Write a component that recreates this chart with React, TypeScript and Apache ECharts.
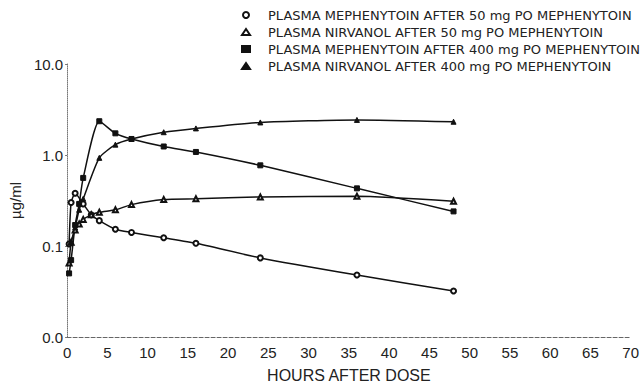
import React, { useEffect, useRef } from "react";
import * as echarts from "echarts";

const xTicks = [0, 5, 10, 15, 20, 25, 30, 35, 40, 45, 50, 55, 60, 65, 70];
const yTicks = [0.01, 0.1, 1, 10];

const seriesNames = [
  "PLASMA MEPHENYTOIN AFTER 50 mg PO MEPHENYTOIN",
  "PLASMA NIRVANOL AFTER 50 mg PO MEPHENYTOIN",
  "PLASMA MEPHENYTOIN AFTER 400 mg PO MEPHENYTOIN",
  "PLASMA NIRVANOL AFTER 400 mg PO MEPHENYTOIN",
];

const meph50Hours = [0.25, 0.5, 1, 2, 3, 4, 6, 8, 12, 16, 24, 36, 48];
const meph50Values = [0.105, 0.3, 0.38, 0.29, 0.22, 0.19, 0.153, 0.141, 0.123, 0.107, 0.074, 0.048, 0.032];

const nirv50Hours = [0.25, 0.5, 1, 1.5, 2, 3, 4, 6, 8, 12, 16, 24, 36, 48];
const nirv50Values = [0.065, 0.11, 0.15, 0.175, 0.196, 0.22, 0.235, 0.25, 0.285, 0.324, 0.33, 0.346, 0.352, 0.31];

const meph400Hours = [0.25, 0.5, 1, 1.5, 2, 4, 6, 8, 12, 16, 24, 36, 48];
const meph400Values = [0.05, 0.07, 0.17, 0.29, 0.56, 2.35, 1.73, 1.5, 1.24, 1.08, 0.77, 0.43, 0.24];

const nirv400Hours = [0.5, 1, 1.5, 2, 4, 6, 8, 12, 16, 24, 36, 48];
const nirv400Values = [0.11, 0.16, 0.25, 0.33, 0.93, 1.3, 1.5, 1.78, 1.96, 2.28, 2.43, 2.32];

const symbols = ["emptyCircle", "emptyTriangle", "rect", "triangle"];

const pair = (h: number[], v: number[]) => h.map((x, i) => [x, v[i]]);

export default function App() {
  const ref = useRef<HTMLDivElement>(null);
  useEffect(() => {
    if (!ref.current) return;
    const chart = echarts.init(ref.current, undefined, { renderer: "svg" });
    const datasets = [
      pair(meph50Hours, meph50Values),
      pair(nirv50Hours, nirv50Values),
      pair(meph400Hours, meph400Values),
      pair(nirv400Hours, nirv400Values),
    ];
    const font = "'Liberation Sans', Arial, sans-serif";
    chart.setOption({
      animation: false,
      backgroundColor: "#ffffff",
      legend: {
        orient: "vertical",
        left: 236,
        top: 3,
        itemGap: 3,
        itemWidth: 8,
        itemHeight: 6,
        data: seriesNames.map((n, i) => ({ name: n, icon: symbols[i] })),
        textStyle: {
          color: "#222",
          fontSize: 13,
          lineHeight: 14,
          fontFamily: "'DejaVu Sans', sans-serif",
          padding: [0, 0, 0, 13],
        },
      },
      grid: { left: 60, right: 10, top: 64, bottom: 47 },
      xAxis: {
        type: "value",
        min: 0,
        max: 70,
        interval: 5,
        name: "HOURS AFTER DOSE",
        nameLocation: "middle",
        nameGap: 30,
        nameTextStyle: { color: "#222", fontSize: 16, fontFamily: font },
        axisLine: { lineStyle: { color: "#666", type: "dashed", width: 1 } },
        axisTick: { show: false },
        splitLine: { show: false },
        axisLabel: {
          color: "#222",
          fontSize: 15,
          fontFamily: font,
          margin: 8,
          customValues: xTicks,
        },
      },
      yAxis: {
        type: "log",
        logBase: 10,
        min: 0.01,
        max: 10,
        name: "µg/ml",
        nameLocation: "middle",
        nameGap: 40,
        nameTextStyle: { color: "#222", fontSize: 15, fontFamily: font },
        axisLine: { lineStyle: { color: "#777", type: "dotted", width: 1 } },
        axisTick: { show: true, length: 2, inside: false, lineStyle: { color: "#777" } },
        splitLine: { show: false },
        axisLabel: {
          color: "#222",
          fontSize: 15,
          fontFamily: font,
          margin: 4,
          customValues: yTicks,
          formatter: (v: number) => (Math.floor(v * 10) / 10).toFixed(1),
        },
      },
      series: datasets.map((d, i) => ({
        name: seriesNames[i],
        type: "line",
        data: d,
        smooth: 0.2,
        symbol: symbols[i],
        symbolSize: 5,
        showAllSymbol: true,
        lineStyle: { color: "#111", width: 1.5 },
        itemStyle: { color: "#111", borderColor: "#111", borderWidth: 1 },
        emphasis: { disabled: true },
      })),
    });
    return () => chart.dispose();
  }, []);
  return (
    <div
      ref={ref}
      style={{ position: "fixed", left: 0, top: 0, width: 642, height: 388 }}
    />
  );
}
